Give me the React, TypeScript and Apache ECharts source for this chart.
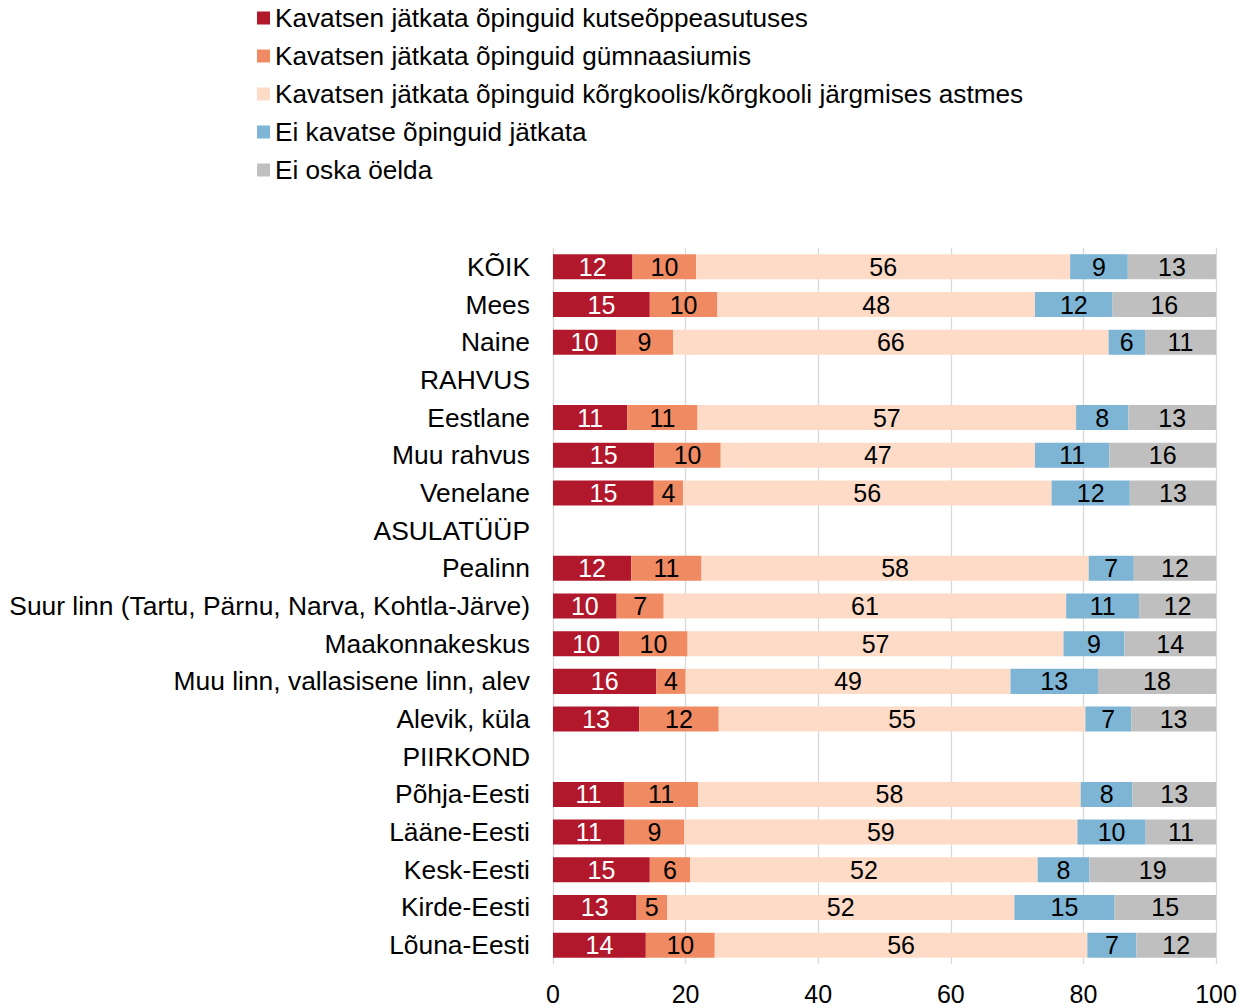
import React, { useEffect, useRef } from "react";
import * as echarts from "echarts";

const categories = [
  "KÕIK",
  "Mees",
  "Naine",
  "RAHVUS",
  "Eestlane",
  "Muu rahvus",
  "Venelane",
  "ASULATÜÜP",
  "Pealinn",
  "Suur linn (Tartu, Pärnu, Narva, Kohtla-Järve)",
  "Maakonnakeskus",
  "Muu linn, vallasisene linn, alev",
  "Alevik, küla",
  "PIIRKOND",
  "Põhja-Eesti",
  "Lääne-Eesti",
  "Kesk-Eesti",
  "Kirde-Eesti",
  "Lõuna-Eesti",
];

const seriesNames = [
  "Kavatsen jätkata õpinguid kutseõppeasutuses",
  "Kavatsen jätkata õpinguid gümnaasiumis",
  "Kavatsen jätkata õpinguid kõrgkoolis/kõrgkooli järgmises astmes",
  "Ei kavatse õpinguid jätkata",
  "Ei oska öelda",
];

const kutse = [12.0, 14.6, 9.5, "-", 11.2, 15.3, 15.2, "-", 11.8, 9.6, 10.0, 15.6, 13.0, "-", 10.7, 10.8, 14.6, 12.6, 14.0];
const gymn = [9.6, 10.2, 8.6, "-", 10.6, 10.0, 4.4, "-", 10.6, 7.1, 10.3, 4.4, 12.0, "-", 11.2, 9.0, 6.1, 4.6, 10.4];
const korg = [56.4, 47.9, 65.7, "-", 57.1, 47.4, 55.6, "-", 58.4, 60.7, 56.7, 49.0, 55.3, "-", 57.7, 59.3, 52.4, 52.4, 56.2];
const eiKavatse = [8.7, 11.7, 5.5, "-", 7.9, 11.2, 11.8, "-", 6.8, 11.0, 9.2, 13.2, 6.9, "-", 7.8, 10.3, 7.8, 15.1, 7.4];
const eiOska = [13.3, 15.6, 10.7, "-", 13.2, 16.1, 13.0, "-", 12.4, 11.6, 13.8, 17.8, 12.8, "-", 12.6, 10.6, 19.1, 15.3, 12.0];

const seriesData = [kutse, gymn, korg, eiKavatse, eiOska];
const colors = ["#B2182B", "#EF8A62", "#FDDBC7", "#7EB4D4", "#BFBFBF"];
const labelColors = ["#FFFFFF", "#000000", "#000000", "#000000", "#000000"];

const FONT = "'Liberation Sans', Arial, sans-serif";
const FS = 25;
const FS_LEGEND = 26.2;
const FS_CAT = 26.4;

export default function App() {
  const ref = useRef<HTMLDivElement>(null);
  useEffect(() => {
    if (!ref.current) return;
    const chart = echarts.init(ref.current, undefined, { renderer: "svg" });
    chart.setOption({
      animation: false,
      backgroundColor: "#FFFFFF",
      textStyle: { fontFamily: FONT },
      legend: {
        orient: "vertical",
        left: 257,
        top: 5,
        padding: 0,
        itemWidth: 13,
        itemHeight: 13,
        itemGap: 12,
        icon: "rect",
        textStyle: { fontSize: FS_LEGEND, color: "#000", fontFamily: FONT, lineHeight: 26 },
        data: seriesNames,
      },
      grid: { left: 553, right: 40, top: 248, bottom: 44, containLabel: false },
      xAxis: {
        type: "value",
        min: 0,
        max: 100,
        interval: 20,
        axisLine: { show: false },
        axisTick: { show: false },
        axisLabel: { fontSize: FS, color: "#000", fontFamily: FONT, margin: 17 },
        splitLine: { show: true, lineStyle: { color: "#D9D9D9", width: 1.3 } },
      },
      yAxis: {
        type: "category",
        inverse: true,
        data: categories,
        axisLine: { show: false },
        axisTick: { show: false },
        axisLabel: { fontSize: FS_CAT, color: "#000", fontFamily: FONT, margin: 23 },
      },
      series: seriesNames.map((name, i) => ({
        name,
        type: "bar",
        stack: "total",
        barCategoryGap: "33.6%",
        data: seriesData[i],
        itemStyle: { color: colors[i] },
        label: {
          show: true,
          position: "inside",
          fontSize: FS,
          fontFamily: FONT,
          color: labelColors[i],
          formatter: (p: any) =>
            typeof p.value === "number" ? String(Math.round(p.value)) : "",
        },
      })),
    });
    return () => chart.dispose();
  }, []);
  return (
    <div
      ref={ref}
      style={{ position: "fixed", left: 0, top: 0, width: 1256, height: 1008 }}
    />
  );
}
